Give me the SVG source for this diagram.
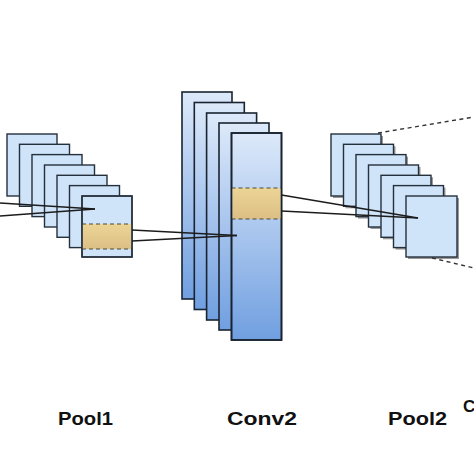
<svg xmlns="http://www.w3.org/2000/svg" width="474" height="474" viewBox="0 0 474 474">
<defs>
<linearGradient id="convGrad" x1="0" y1="0" x2="0" y2="1">
<stop offset="0" stop-color="#dde9fa"/>
<stop offset="1" stop-color="#709fe0"/>
</linearGradient>
<linearGradient id="bandGrad" x1="0" y1="0" x2="0" y2="1">
<stop offset="0" stop-color="#ecd496"/>
<stop offset="1" stop-color="#dcbf84"/>
</linearGradient>
</defs>
<style>
.map{fill:#cfe3f9;stroke:#25303d;stroke-width:1.4}
.conv{fill:url(#convGrad);stroke:#1a2330;stroke-width:1.6}
.shadow{fill:#9a9a9a}
.band{fill:url(#bandGrad);stroke:none}
.bandEdge{stroke:#4a4a3a;stroke-width:1.2;stroke-dasharray:4 3;fill:none}
.conn{stroke:#1c1c1c;stroke-width:1.3;fill:none}
.dash{stroke:#333;stroke-width:1.4;stroke-dasharray:4 3.5;fill:none}
.label{font-family:"Liberation Sans",Arial,sans-serif;font-weight:bold;font-size:18px;fill:#111}
</style>
<rect width="474" height="474" fill="#ffffff"/>

<g id="pool1">
<rect class="map" x="7" y="134" width="50" height="62"/>
<rect class="map" x="19.5" y="144.3" width="50" height="62"/>
<rect class="map" x="32" y="154.6" width="50" height="62"/>
<rect class="map" x="44.5" y="165" width="50" height="62"/>
<rect class="map" x="57" y="175.3" width="50" height="62"/>
<rect class="map" x="69.5" y="185.6" width="50" height="62"/>
<rect class="map" x="82" y="196" width="50" height="61"/>
<rect class="band" x="82.6" y="224" width="48.8" height="25"/>
<line class="bandEdge" x1="82" y1="224" x2="132" y2="224"/>
<line class="bandEdge" x1="82" y1="249" x2="132" y2="249"/>
<rect x="82" y="196" width="50" height="61" fill="none" stroke="#25303d" stroke-width="1.4"/>
</g>

<g id="conv2">
<rect class="conv" x="182" y="92" width="50" height="207"/>
<rect class="conv" x="194.3" y="102.5" width="50" height="207"/>
<rect class="conv" x="206.6" y="113" width="50" height="207"/>
<rect class="conv" x="219" y="123" width="50" height="207"/>
<rect class="conv" x="231.5" y="133" width="50" height="207"/>
<rect class="band" x="232.2" y="188" width="48.6" height="31"/>
<line class="bandEdge" x1="231.5" y1="188" x2="281.5" y2="188"/>
<line class="bandEdge" x1="231.5" y1="219" x2="281.5" y2="219"/>
<rect x="231.5" y="133" width="50" height="207" fill="none" stroke="#1a2330" stroke-width="1.6"/>
</g>

<g id="pool2">
<rect class="shadow" x="333" y="136" width="50" height="62"/>
<rect class="map" x="331" y="134" width="50" height="62"/>
<rect class="shadow" x="345.5" y="146.3" width="50" height="62"/>
<rect class="map" x="343.5" y="144.3" width="50" height="62"/>
<rect class="shadow" x="358" y="156.6" width="50" height="62"/>
<rect class="map" x="356" y="154.6" width="50" height="62"/>
<rect class="shadow" x="370.5" y="167" width="50" height="62"/>
<rect class="map" x="368.5" y="165" width="50" height="62"/>
<rect class="shadow" x="383" y="177.3" width="50" height="62"/>
<rect class="map" x="381" y="175.3" width="50" height="62"/>
<rect class="shadow" x="395.5" y="187.6" width="50" height="62"/>
<rect class="map" x="393.5" y="185.6" width="50" height="62"/>
<rect class="shadow" x="408" y="198" width="51" height="61"/>
<rect class="map" x="406" y="196" width="51" height="61"/>
</g>

<g id="connectors">
<line class="conn" x1="0" y1="203" x2="95" y2="209"/>
<line class="conn" x1="0" y1="216" x2="95" y2="209"/>
<line class="conn" x1="132" y1="230" x2="237" y2="235.5"/>
<line class="conn" x1="132" y1="241" x2="237" y2="235.5"/>
<line class="conn" x1="281.5" y1="195" x2="418" y2="218"/>
<line class="conn" x1="281.5" y1="211" x2="418" y2="218"/>
<line class="dash" x1="378" y1="133" x2="474" y2="117"/>
<line class="dash" x1="432" y1="258" x2="474" y2="268"/>
</g>

<g id="labels">
<text class="label" x="58" y="425" textLength="55" lengthAdjust="spacingAndGlyphs">Pool1</text>
<text class="label" x="227" y="425" textLength="70" lengthAdjust="spacingAndGlyphs">Conv2</text>
<text class="label" x="388" y="425" textLength="59" lengthAdjust="spacingAndGlyphs">Pool2</text>
<text class="label" x="463" y="412" style="font-size:17px">C</text>
</g>
</svg>
